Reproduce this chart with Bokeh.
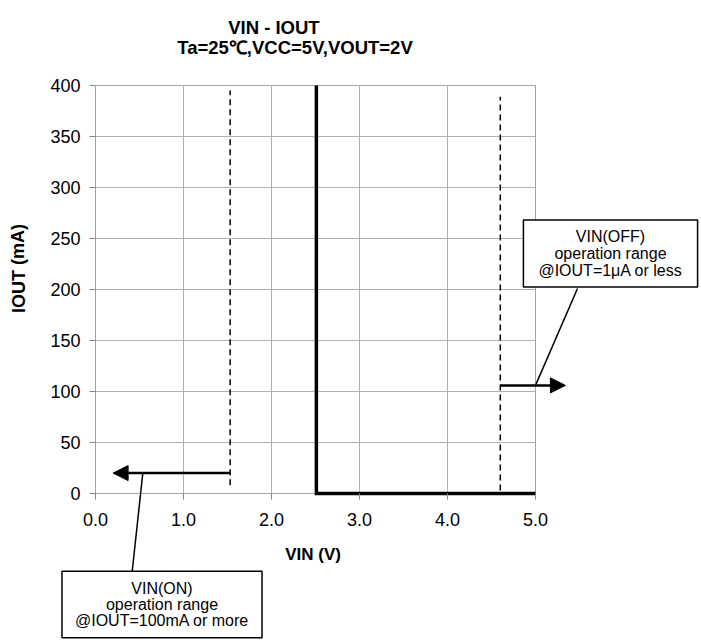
from bokeh.plotting import figure
from bokeh.models import (Range1d, FixedTicker, NumeralTickFormatter, Label, Arrow,
                          NormalHead, LinearAxis, Grid, BoxAnnotation)
from bokeh.embed import file_html
from bokeh.resources import INLINE

# ---- data ----
vin_curve = [2.51, 2.51, 5.0]
iout_curve = [400, 0, 0]

vin_on_x = [1.53, 1.53]
vin_on_y = [8, 395]
vin_off_x = [4.60, 4.60]
vin_off_y = [3, 389]

on_arrow_x = [1.53, 0.20]
on_arrow_y = [20, 20]
off_arrow_x = [4.60, 5.34]
off_arrow_y = [106, 106]

x_ticks = [0, 1, 2, 3, 4, 5]
y_ticks = [0, 50, 100, 150, 200, 250, 300, 350, 400]
x_limits = (0, 5)
y_limits = (0, 400)

title1 = "VIN  - IOUT"
title2 = "Ta=25\u2103,VCC=5V,VOUT=2V"
x_label = "VIN  (V)"
y_label = "IOUT (mA)"
on_text = "VIN(ON)\noperation range\n@IOUT=100mA or more"
off_text = "VIN(OFF)\noperation range\n@IOUT=1\u03bcA or less"

FONT = "Liberation Sans"
GRID = "#b0b0b0"
FRAME = "#868686"

W, H = 701, 640
PX_X, PX_Y = 88.0, 1.02        # pixels per data unit
X0_PX, Y0_PX = 95.0, 493.0     # canvas position of the data origin


def dx(px):
    return (px - X0_PX) / PX_X


def dy(py):
    return (Y0_PX - py) / PX_Y


p = figure(width=W, height=H, output_backend="svg", toolbar_location=None,
           x_range=Range1d(dx(0), dx(W)), y_range=Range1d(dy(H), dy(0)),
           x_axis_location=None, y_axis_location=None,
           min_border=0)
p.center = []
p.background_fill_color = "white"
p.border_fill_color = "white"
p.outline_line_color = None

# grid
try:
    xg = Grid(dimension=0, ticker=FixedTicker(ticks=x_ticks), cross_bounds=y_limits,
              grid_line_color=GRID)
    yg = Grid(dimension=1, ticker=FixedTicker(ticks=y_ticks), cross_bounds=x_limits,
              grid_line_color=GRID)
    p.add_layout(xg)
    p.add_layout(yg)
except AttributeError:
    p.segment(x0=x_ticks, y0=[y_limits[0]] * len(x_ticks), x1=x_ticks,
              y1=[y_limits[1]] * len(x_ticks), line_color=GRID, level="underlay")
    p.segment(x0=[x_limits[0]] * len(y_ticks), y0=y_ticks, x1=[x_limits[1]] * len(y_ticks),
              y1=y_ticks, line_color=GRID, level="underlay")

# plot-area frame
p.add_layout(BoxAnnotation(left=x_limits[0], right=x_limits[1], bottom=y_limits[0],
                           top=y_limits[1], fill_alpha=0, line_color=FRAME,
                           line_width=1, level="underlay"))

# axes placed at the plot-area edges
xaxis = LinearAxis(fixed_location=y_limits[0], bounds=x_limits,
                   ticker=FixedTicker(ticks=x_ticks),
                   formatter=NumeralTickFormatter(format="0.0"))
yaxis = LinearAxis(fixed_location=x_limits[0], bounds=y_limits,
                   ticker=FixedTicker(ticks=y_ticks))
for ax in (xaxis, yaxis):
    ax.axis_line_color = None
    ax.major_tick_line_color = FRAME
    ax.minor_tick_line_color = None
    ax.major_tick_out = 6
    ax.major_tick_in = 0
    ax.major_label_text_font = FONT
    ax.major_label_text_font_size = "18px"
    ax.major_label_text_color = "black"
xaxis.major_label_standoff = 13
yaxis.major_label_standoff = 9
xaxis.axis_label = x_label
xaxis.axis_label_text_font = FONT
xaxis.axis_label_text_font_style = "bold"
xaxis.axis_label_text_font_size = "17px"
xaxis.axis_label_text_color = "black"
xaxis.axis_label_standoff = 16
p.add_layout(xaxis, "below")
p.add_layout(yaxis, "left")

# main characteristic
p.line(vin_curve, iout_curve, line_color="black", line_width=3.5, line_join="miter")

# dashed operation range limits
p.line(vin_on_x, vin_on_y, line_color="black", line_width=1.5, line_dash="6 4")
p.line(vin_off_x, vin_off_y, line_color="black", line_width=1.5, line_dash="6 4")

# arrows
for ax_, ay_ in ((on_arrow_x, on_arrow_y), (off_arrow_x, off_arrow_y)):
    p.add_layout(Arrow(x_start=ax_[0], y_start=ay_[0], x_end=ax_[1], y_end=ay_[1],
                       line_color="black", line_width=2.5,
                       end=NormalHead(size=15, fill_color="black", line_color="black")))

# leader lines from boxes to arrows
p.add_layout(Arrow(x_start=dx(142.3), y_start=on_arrow_y[0], x_end=dx(131.7), y_end=dy(571),
                   line_color="black", line_width=1.5, end=None))
p.add_layout(Arrow(x_start=x_limits[1], y_start=off_arrow_y[0], x_end=dx(577), y_end=dy(288),
                   line_color="black", line_width=1.5, end=None))

# annotation boxes (padding = horizontal, vertical)
box_style = dict(text_font=FONT, text_font_size="16px", text_color="black",
                 text_align="center", text_baseline="middle",
                 background_fill_color="white", border_line_color="black",
                 border_line_width=1.5)
p.add_layout(Label(x=dx(161.5), y=dy(604), text=on_text, padding=(13, 9),
                   text_line_height=0.93, **box_style))
p.add_layout(Label(x=dx(610), y=dy(253), text=off_text, padding=(15, 8),
                   text_line_height=1.0, **box_style))

# titles
t_style = dict(text_font=FONT, text_font_size="18.5px", text_font_style="bold",
               text_color="black", text_align="center", text_baseline="alphabetic")
p.add_layout(Label(x=dx(276), y=dy(26.7), text=title1, **t_style))
p.add_layout(Label(x=dx(294.5), y=dy(46.7), text=title2, **t_style))

# y axis title
p.add_layout(Label(x=dx(18), y=dy(268), text=y_label, angle=1.5708,
                   text_font=FONT, text_font_size="18px", text_font_style="bold",
                   text_color="black", text_align="center", text_baseline="middle"))

open("out.html", "w").write(file_html(p, INLINE))
